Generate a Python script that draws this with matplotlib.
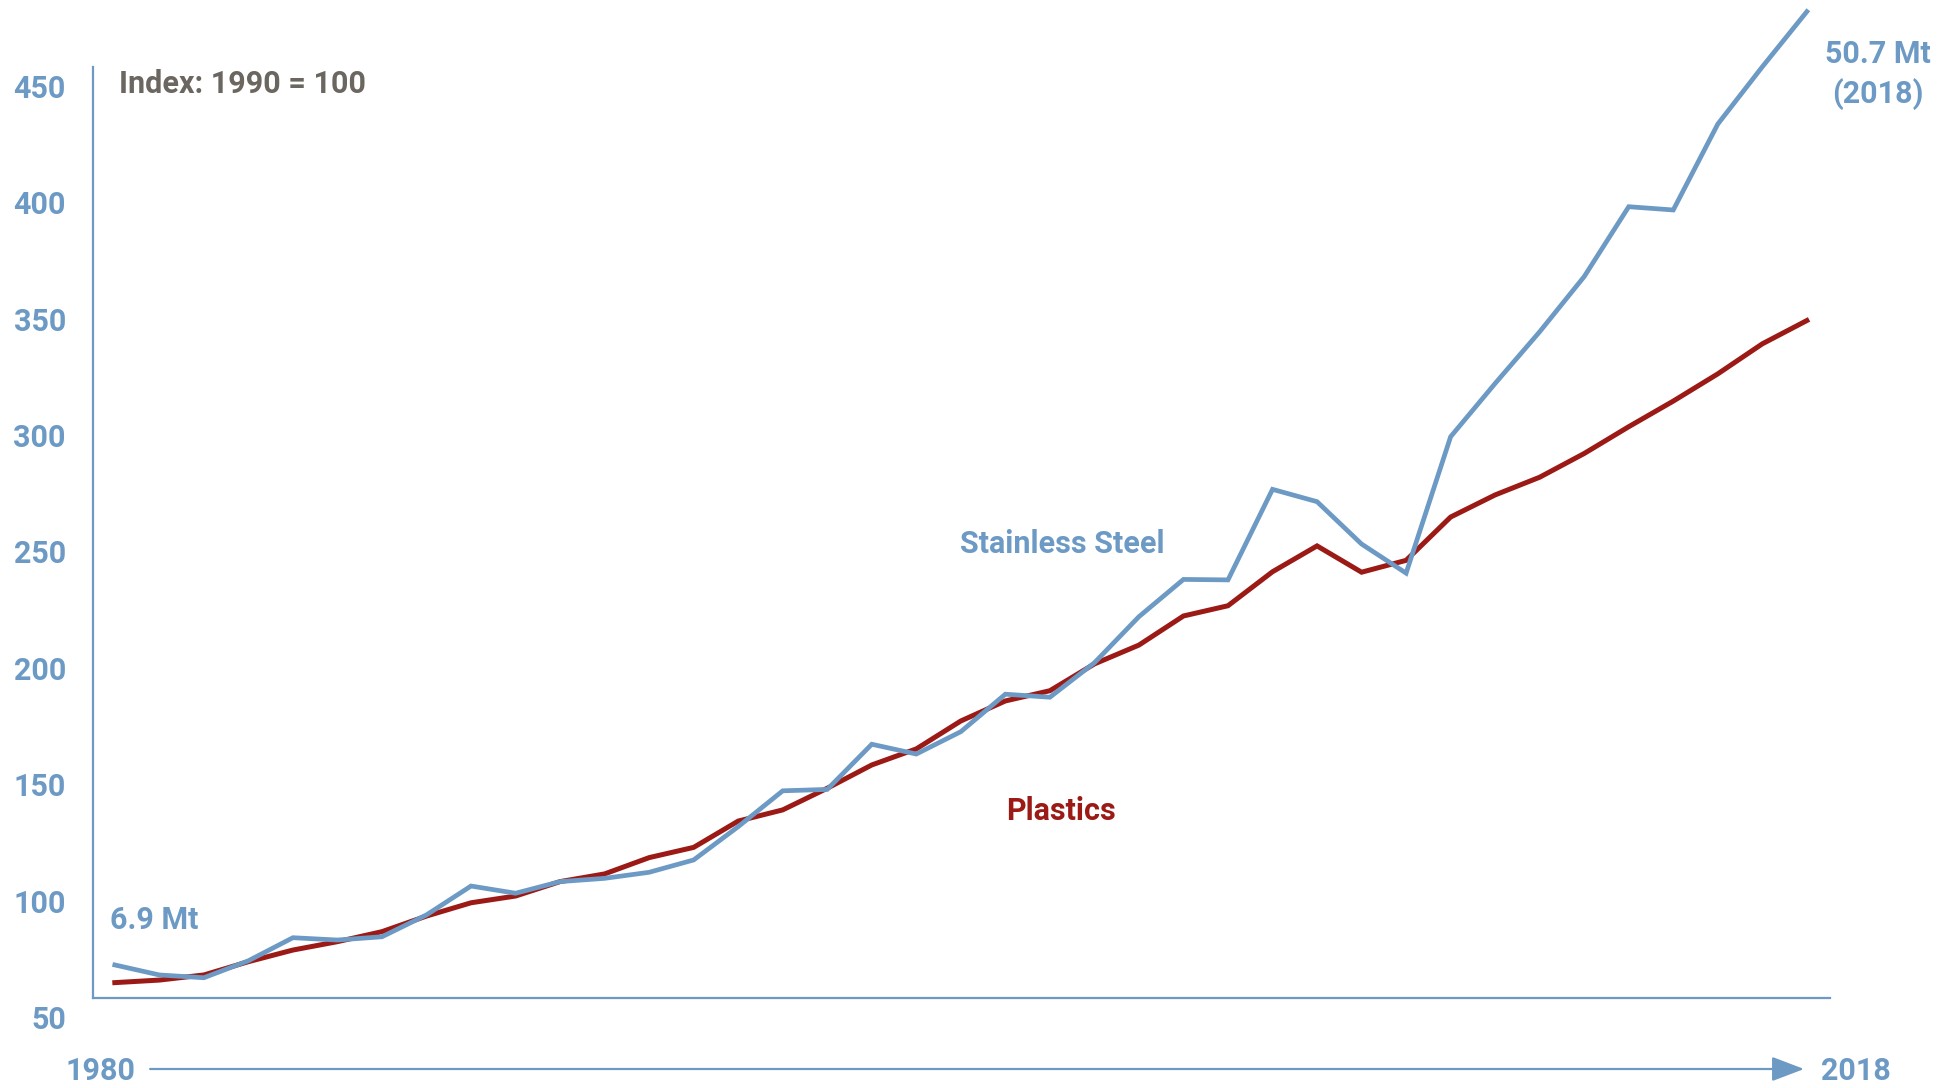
import numpy as np
import matplotlib
matplotlib.use('Agg')
import matplotlib.pyplot as plt

# index values, 1990 = 100
years = np.arange(1980, 2019)
steel = [64.2, 59.9, 58.7, 66.0, 75.9, 74.9, 76.3, 85.7, 98.1, 95.0,
         100.0, 101.4, 104.0, 109.3, 123.6, 139.0, 139.6, 159.0, 154.8, 164.4,
         180.5, 179.2, 194.0, 213.8, 229.8, 229.6, 268.5, 263.2, 245.0, 232.5,
         291.1, 314.0, 336.2, 359.9, 389.9, 388.5, 425.4, 450.0, 473.7]
plastics = [56.6, 57.7, 59.9, 65.6, 70.6, 74.2, 78.5, 85.2, 90.9, 93.8,
            100.0, 103.3, 110.3, 114.7, 126.0, 130.8, 140.1, 150.1, 157.0, 169.0,
            177.6, 182.0, 193.5, 201.6, 214.1, 218.5, 233.1, 244.2, 232.9, 238.0,
            256.6, 266.1, 273.7, 283.9, 295.4, 306.4, 318.1, 331.0, 341.0]
yticks = [50, 100, 150, 200, 250, 300, 350, 400, 450]

blue = '#6c9ac4'
red = '#9c1a16'
grey = '#6b665f'
plt.rcParams['font.family'] = ['Roboto', 'DejaVu Sans']
plt.rcParams['font.weight'] = 'bold'

fig = plt.figure(figsize=(19.54, 10.88), dpi=100)
ax = fig.add_axes([93/1954, 1 - 998/1088, (1830-93)/1954, (998-8.6)/1088])

ax.plot(years, plastics, color=red, lw=3.6, clip_on=False, solid_joinstyle='miter')
ax.plot(years, steel, color=blue, lw=3.4, clip_on=False, solid_joinstyle='miter')

ax.set_xlim(1979.51, 2018.52)
ax.set_ylim(50, 475)
for s in ['top', 'right']:
    ax.spines[s].set_visible(False)
for s in ['left', 'bottom']:
    ax.spines[s].set_color(blue)
    ax.spines[s].set_linewidth(1.6)
ax.spines['left'].set_bounds(50, 450)
ax.set_xticks([])
ax.set_yticks([])

# y labels sit below their tick position
for v in yticks:
    ax.annotate(str(v), xy=(0, v), xycoords=ax.get_yaxis_transform(),
                xytext=(-19.5, -22.3), textcoords='offset points',
                ha='right', va='baseline', fontsize=22, color=blue)

ax.text(1980.1, 438.8, 'Index: 1990 = 100', fontsize=22, color=grey, va='baseline')
ax.text(1979.9, 79.6, '6.9 Mt', fontsize=22, color=blue, va='baseline')
ax.text(2019.6, 451.6, '50.7 Mt', fontsize=22, color=blue, va='baseline', ha='center')
ax.text(2019.6, 434.5, '(2018)', fontsize=22, color=blue, va='baseline', ha='center')
ax.text(2001.27, 241.2, 'Stainless Steel', fontsize=22, color=blue, va='baseline', ha='center')
ax.text(2001.26, 126.5, 'Plastics', fontsize=22, color=red, va='baseline', ha='center')

# time arrow under the axis
ax.annotate('', xy=(years[-1], 19.5), xytext=(1980.73, 19.5),
            arrowprops=dict(arrowstyle='-|>,head_length=1.0,head_width=0.38',
                            color=blue, lw=1.6, mutation_scale=20),
            annotation_clip=False)
ax.text(1980.46, 14.8, str(years[0]), fontsize=22, color=blue, va='baseline', ha='right')
ax.text(2018.31, 14.8, str(years[-1]), fontsize=22, color=blue, va='baseline', ha='left')

plt.savefig('out.png', dpi=100)
